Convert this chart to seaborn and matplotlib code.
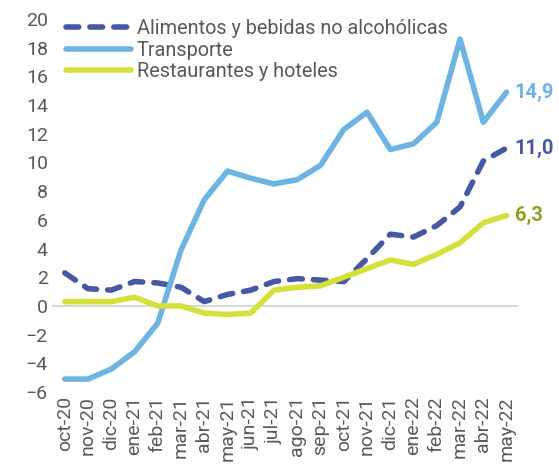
import numpy as np
import pandas as pd
import matplotlib.pyplot as plt
import seaborn as sns

meses = ['oct-20', 'nov-20', 'dic-20', 'ene-21', 'feb-21', 'mar-21', 'abr-21',
         'may-21', 'jun-21', 'jul-21', 'ago-21', 'sep-21', 'oct-21', 'nov-21',
         'dic-21', 'ene-22', 'feb-22', 'mar-22', 'abr-22', 'may-22']
alimentos = [2.3, 1.2, 1.1, 1.7, 1.6, 1.3, 0.3, 0.8, 1.1, 1.7, 1.9, 1.8, 1.7,
             3.3, 5.0, 4.8, 5.6, 6.9, 10.1, 11.0]
transporte = [-5.1, -5.1, -4.4, -3.2, -1.2, 3.9, 7.4, 9.4, 8.9, 8.5, 8.8, 9.8,
              12.3, 13.5, 10.9, 11.3, 12.8, 18.6, 12.8, 14.9]
restaurantes = [0.3, 0.3, 0.3, 0.6, 0.0, 0.0, -0.5, -0.6, -0.5, 1.1, 1.3, 1.4,
                2.0, 2.6, 3.2, 2.9, 3.6, 4.4, 5.8, 6.3]

series = ['Alimentos y bebidas no alcohólicas', 'Transporte', 'Restaurantes y hoteles']
colores = ['#4658a6', '#6db3e3', '#d5e03a']
etiquetas_col = ['#4658a6', '#6db3e3', '#8fa21e']

df = pd.DataFrame({'mes': meses * 3,
                   'x': list(range(len(meses))) * 3,
                   'valor': alimentos + transporte + restaurantes,
                   'serie': [series[0]] * 20 + [series[1]] * 20 + [series[2]] * 20})

sns.set_style('white')
plt.rcParams['font.family'] = ['Roboto', 'DejaVu Sans']
plt.rcParams['lines.dash_capstyle'] = 'round'
plt.rcParams['lines.solid_capstyle'] = 'round'
gris = '#595959'

fig = plt.figure(figsize=(5.59, 4.74), dpi=100)
ax = fig.add_axes([0.093, 0.173, 0.834, 0.787])

ax.axhline(0, color='#d9d9d9', lw=1.5, zorder=0)
sns.lineplot(data=df, x='x', y='valor', hue='serie', style='serie',
             palette=colores, dashes={series[0]: (2.3, 2.0), series[1]: '', series[2]: ''},
             linewidth=4, ax=ax, legend=True)

for col, vals, c in zip(series, [alimentos, transporte, restaurantes], etiquetas_col):
    ax.text(19.35, vals[-1], f'{vals[-1]:.1f}'.replace('.', ','), color=c,
            fontsize=14.5, fontweight='bold', va='center', ha='left')

ax.set_xlim(-0.55, 19.5)
ax.set_ylim(-6, 20)
ax.set_yticks(range(-6, 21, 2))
ax.set_xticks(range(len(meses)))
ax.set_xticklabels(meses, rotation=90)
ax.tick_params(axis='both', colors=gris, labelsize=14, length=0, pad=3)
ax.set_xlabel('')
ax.set_ylabel('')
for s in ax.spines.values():
    s.set_visible(False)

leg = ax.legend(loc='upper left', bbox_to_anchor=(0.012, 1.02), frameon=False,
                fontsize=14.3, handlelength=3.3, handletextpad=0.3,
                labelspacing=0.12, borderaxespad=0)
for t in leg.get_texts():
    t.set_color(gris)
for h in leg.get_lines():
    h.set_linewidth(4)

fig.savefig('out.png', dpi=100)
